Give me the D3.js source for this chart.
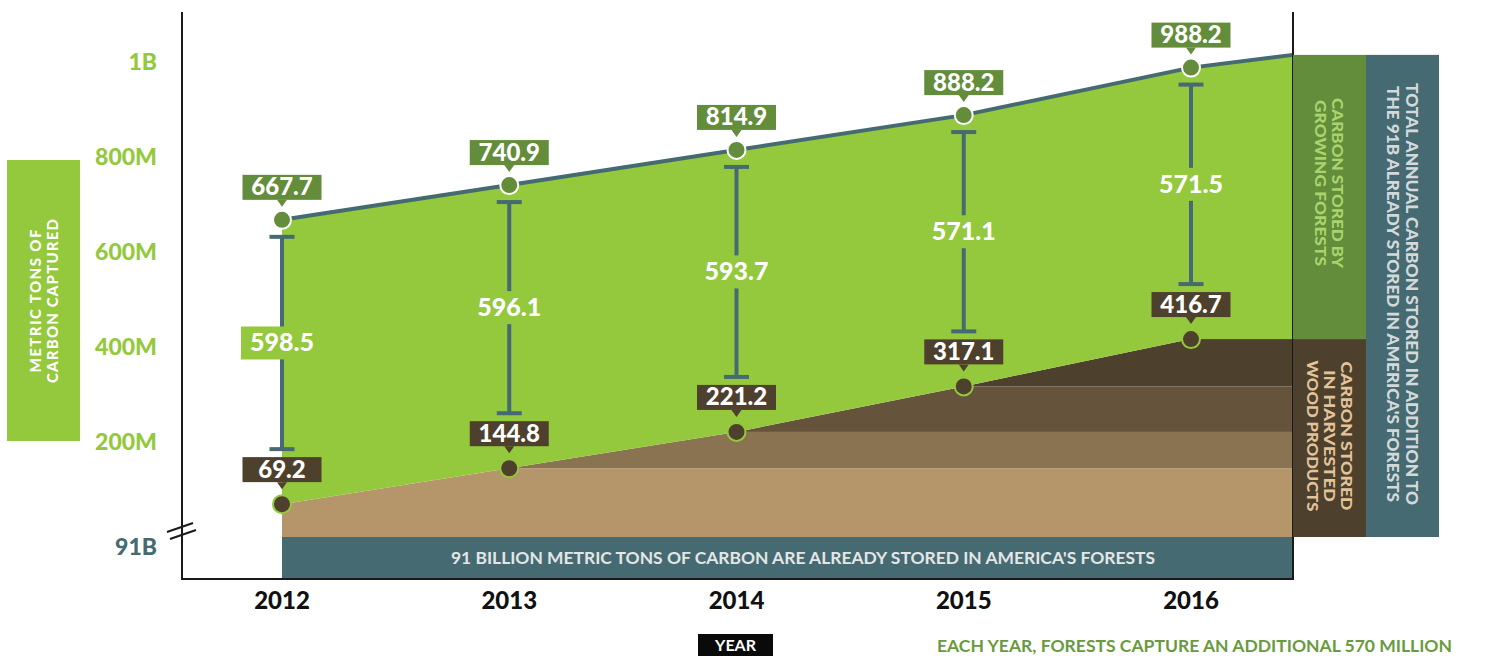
<!DOCTYPE html>
<html>
<head>
<meta charset="utf-8">
<script src="https://cdn.jsdelivr.net/npm/d3@7"></script>
<style>
  body { margin: 0; background: #fff; }
  text { font-family: Lato, "Open Sans", sans-serif; font-weight: 900; }
  .narrow { font-family: "Liberation Sans Narrow", Lato, sans-serif; font-weight: 700; }
</style>
</head>
<body>
<svg id="chart" width="1492" height="656"></svg>
<script>
// values (million metric tons of carbon)
var years = [2012, 2013, 2014, 2015, 2016];
var totalCarbon = [667.7, 740.9, 814.9, 888.2, 988.2];       // top line
var harvestedCarbon = [69.2, 144.8, 221.2, 317.1, 416.7];    // harvested wood products
var totalAtEdge = 1015;                                      // where the top line meets the side panels
var yTicks = [200, 400, 600, 800, 1000];
var yTickLabels = ["200M", "400M", "600M", "800M", "1B"];
var baseLabel = "91B";
var bandColors = ["#b5956a", "#8a7350", "#65533b", "#4d402c"];

var green = "#94c83d", darkGreen = "#638c3b", teal = "#466a72", brown = "#4d402c";

var svg = d3.select("#chart");

// plot edges
var plotLeft = 182, plotRight = 1293, plotTop = 12, plotBottom = 579;

var x = d3.scaleLinear().domain([2012, 2016]).range([282, 1191]);
var y = d3.scaleLinear().domain([0, 1000]).range([537, 62]);
var edgeYear = x.invert(plotRight);

// rows for the areas, with the extra point at the right edge
var rows = years.map(function(yr, i) {
  return { year: yr, low: harvestedCarbon[i], high: totalCarbon[i] };
});
rows.push({ year: edgeYear, low: harvestedCarbon[harvestedCarbon.length - 1], high: totalAtEdge });

// 91B base band
svg.append("rect")
  .attr("x", x(2012)).attr("y", y(0))
  .attr("width", plotRight - x(2012)).attr("height", plotBottom - y(0))
  .attr("fill", teal);
svg.append("text")
  .attr("class", "narrow")
  .attr("x", 803).attr("y", (y(0) + plotBottom) / 2 + 6)
  .attr("text-anchor", "middle")
  .attr("font-size", 17)
  .attr("fill", "#e3e6e6")
  .attr("textLength", 704).attr("lengthAdjust", "spacingAndGlyphs")
  .text("91 BILLION METRIC TONS OF CARBON ARE ALREADY STORED IN AMERICA'S FORESTS");

// harvested wood: stepped colour bands clipped to the area under the lower line
var lowArea = d3.area()
  .x(function(d) { return x(d.year); })
  .y0(y(0))
  .y1(function(d) { return y(d.low); });

svg.append("clipPath").attr("id", "harvestClip")
  .append("path").attr("d", lowArea(rows));

var bandEdges = [0].concat(harvestedCarbon.slice(1));
svg.append("g").attr("clip-path", "url(#harvestClip)")
  .selectAll("rect")
  .data(bandColors)
  .enter().append("rect")
    .attr("x", x(2012))
    .attr("width", plotRight - x(2012))
    .attr("y", function(d, i) { return y(bandEdges[i + 1]); })
    .attr("height", function(d, i) { return y(bandEdges[i]) - y(bandEdges[i + 1]); })
    .attr("fill", function(d) { return d; });

// growing forests area between the two lines
var growArea = d3.area()
  .x(function(d) { return x(d.year); })
  .y0(function(d) { return y(d.low); })
  .y1(function(d) { return y(d.high); });

svg.append("path").attr("d", growArea(rows)).attr("fill", green);

svg.append("path")
  .attr("d", d3.line().x(function(d) { return x(d.year); }).y(function(d) { return y(d.high); })(rows))
  .attr("fill", "none")
  .attr("stroke", teal)
  .attr("stroke-width", 4);

// axes frame
var frame = svg.append("g").attr("stroke", "#1a1a1a").attr("stroke-width", 2).attr("fill", "none");
frame.append("line").attr("x1", plotLeft).attr("x2", plotLeft).attr("y1", plotTop).attr("y2", plotBottom);
frame.append("line").attr("x1", plotRight).attr("x2", plotRight).attr("y1", plotTop).attr("y2", plotBottom);
frame.append("line").attr("x1", plotLeft - 1).attr("x2", plotRight + 1).attr("y1", plotBottom).attr("y2", plotBottom);
// axis break marks
frame.append("line").attr("x1", plotLeft - 15).attr("y1", y(0) - 5).attr("x2", plotLeft + 11).attr("y2", y(0) - 14);
frame.append("line").attr("x1", plotLeft - 12).attr("y1", y(0) + 2).attr("x2", plotLeft + 14).attr("y2", y(0) - 7);

// y tick labels
svg.append("g").selectAll("text")
  .data(yTicks)
  .enter().append("text")
    .attr("x", 157)
    .attr("y", function(d) { return y(d) + 8; })
    .attr("text-anchor", "end")
    .attr("font-size", 23)
    .attr("fill", green)
    .text(function(d, i) { return yTickLabels[i]; });
svg.append("text")
  .attr("x", 157).attr("y", y(0) + 18)
  .attr("text-anchor", "end")
  .attr("font-size", 23)
  .attr("fill", teal)
  .text(baseLabel);

// x tick labels
svg.append("g").selectAll("text")
  .data(years)
  .enter().append("text")
    .attr("x", function(d) { return x(d); })
    .attr("y", 609)
    .attr("text-anchor", "middle")
    .attr("font-size", 24)
    .attr("fill", "#111")
    .text(function(d) { return d; });

// left title box
svg.append("rect").attr("x", 7).attr("y", 160).attr("width", 73).attr("height", 281).attr("fill", green);
var leftTitle = svg.append("text")
  .attr("transform", "translate(44,301) rotate(-90)")
  .attr("text-anchor", "middle")
  .attr("font-size", 15)
  .attr("fill", "#fff");
leftTitle.append("tspan").attr("x", 0).attr("dy", -3).attr("textLength", 143).text("METRIC TONS OF");
leftTitle.append("tspan").attr("x", 0).attr("dy", 17).attr("textLength", 164).text("CARBON CAPTURED");

// side panels
function sidePanel(x0, y0, w, h, fill, color, lines, lens, cx, cy, size, gap) {
  svg.append("rect").attr("x", x0).attr("y", y0).attr("width", w).attr("height", h).attr("fill", fill);
  var t = svg.append("text")
    .attr("transform", "translate(" + cx + "," + cy + ") rotate(90)")
    .attr("text-anchor", "middle")
    .attr("font-size", size)
    .attr("fill", color);
  lines.forEach(function(line, i) {
    t.append("tspan")
      .attr("x", 0)
      .attr("y", i * gap - (lines.length - 1) * gap / 2 + size * 0.36)
      .attr("textLength", lens[i]).attr("lengthAdjust", "spacingAndGlyphs")
      .text(line);
  });
}
sidePanel(plotRight, y(totalAtEdge), 73, y(harvestedCarbon[4]) - y(totalAtEdge), darkGreen, "#a9d46d",
  ["CARBON STORED BY", "GROWING FORESTS"], [170, 166], 1329, 183, 15, 17);
sidePanel(plotRight, y(harvestedCarbon[4]), 73, y(0) - y(harvestedCarbon[4]), brown, "#e3c39a",
  ["CARBON STORED", "IN HARVESTED", "WOOD PRODUCTS"], [149, 132, 151], 1329, 436, 15, 17);
sidePanel(1366, y(totalAtEdge), 73, y(0) - y(totalAtEdge), teal, "#d3d9da",
  ["TOTAL ANNUAL CARBON STORED IN ADDITION TO", "THE 91B ALREADY STORED IN AMERICA'S FORESTS"], [422, 416], 1402, 294, 16, 19);

// difference bars between the two lines
var fmt = d3.format(".1f");
var bars = svg.append("g").selectAll("g")
  .data(rows.slice(0, years.length))
  .enter().append("g");
bars.each(function(d) {
  var g = d3.select(this);
  var cx = x(d.year);
  var top = y(d.high) + 17;
  var bottom = y(d.low) - 55;
  var mid = (top + bottom) / 2;
  g.append("line").attr("x1", cx).attr("x2", cx).attr("y1", top).attr("y2", bottom)
    .attr("stroke", teal).attr("stroke-width", 4);
  g.append("line").attr("x1", cx - 12.5).attr("x2", cx + 12.5).attr("y1", top).attr("y2", top)
    .attr("stroke", teal).attr("stroke-width", 4);
  g.append("line").attr("x1", cx - 12.5).attr("x2", cx + 12.5).attr("y1", bottom).attr("y2", bottom)
    .attr("stroke", teal).attr("stroke-width", 4);
  g.append("rect").attr("x", cx - 41).attr("y", mid - 16.5).attr("width", 82).attr("height", 33).attr("fill", green);
  g.append("text").attr("x", cx).attr("y", mid + 8.5)
    .attr("text-anchor", "middle").attr("font-size", 25).attr("fill", "#fff")
    .text(fmt(d.high - d.low));
});

// point markers with callout labels
function callout(cx, cy, value, boxFill, gap) {
  var bottom = cy - gap;
  svg.append("rect").attr("x", cx - 39.5).attr("y", bottom - 25).attr("width", 79).attr("height", 25).attr("fill", boxFill);
  svg.append("path")
    .attr("d", "M" + (cx - 5) + "," + bottom + "L" + (cx + 5) + "," + bottom + "L" + cx + "," + (bottom + 7) + "Z")
    .attr("fill", boxFill);
  svg.append("text").attr("x", cx).attr("y", bottom - 4.5)
    .attr("text-anchor", "middle").attr("font-size", 24).attr("fill", "#fff")
    .text(value);
}
rows.slice(0, years.length).forEach(function(d) {
  var cx = x(d.year);
  svg.append("circle").attr("cx", cx).attr("cy", y(d.high)).attr("r", 9)
    .attr("fill", darkGreen).attr("stroke", "#fff").attr("stroke-width", 2);
  callout(cx, y(d.high), fmt(d.high), darkGreen, 20);
  svg.append("circle").attr("cx", cx).attr("cy", y(d.low)).attr("r", 9)
    .attr("fill", brown).attr("stroke", green).attr("stroke-width", 2);
  callout(cx, y(d.low), fmt(d.low), brown, 22);
});

// footer
svg.append("rect").attr("x", 698).attr("y", 634).attr("width", 75).attr("height", 24).attr("fill", "#0a0a0a");
svg.append("text").attr("class", "narrow").attr("x", 735.5).attr("y", 651)
  .attr("text-anchor", "middle").attr("font-size", 16).attr("fill", "#fff")
  .text("YEAR");
svg.append("text").attr("class", "narrow").attr("x", 937).attr("y", 652)
  .attr("font-size", 17).attr("fill", "#6a9a3e")
  .attr("textLength", 515).attr("lengthAdjust", "spacingAndGlyphs")
  .text("EACH YEAR, FORESTS CAPTURE AN ADDITIONAL 570 MILLION");
</script>
</body>
</html>
